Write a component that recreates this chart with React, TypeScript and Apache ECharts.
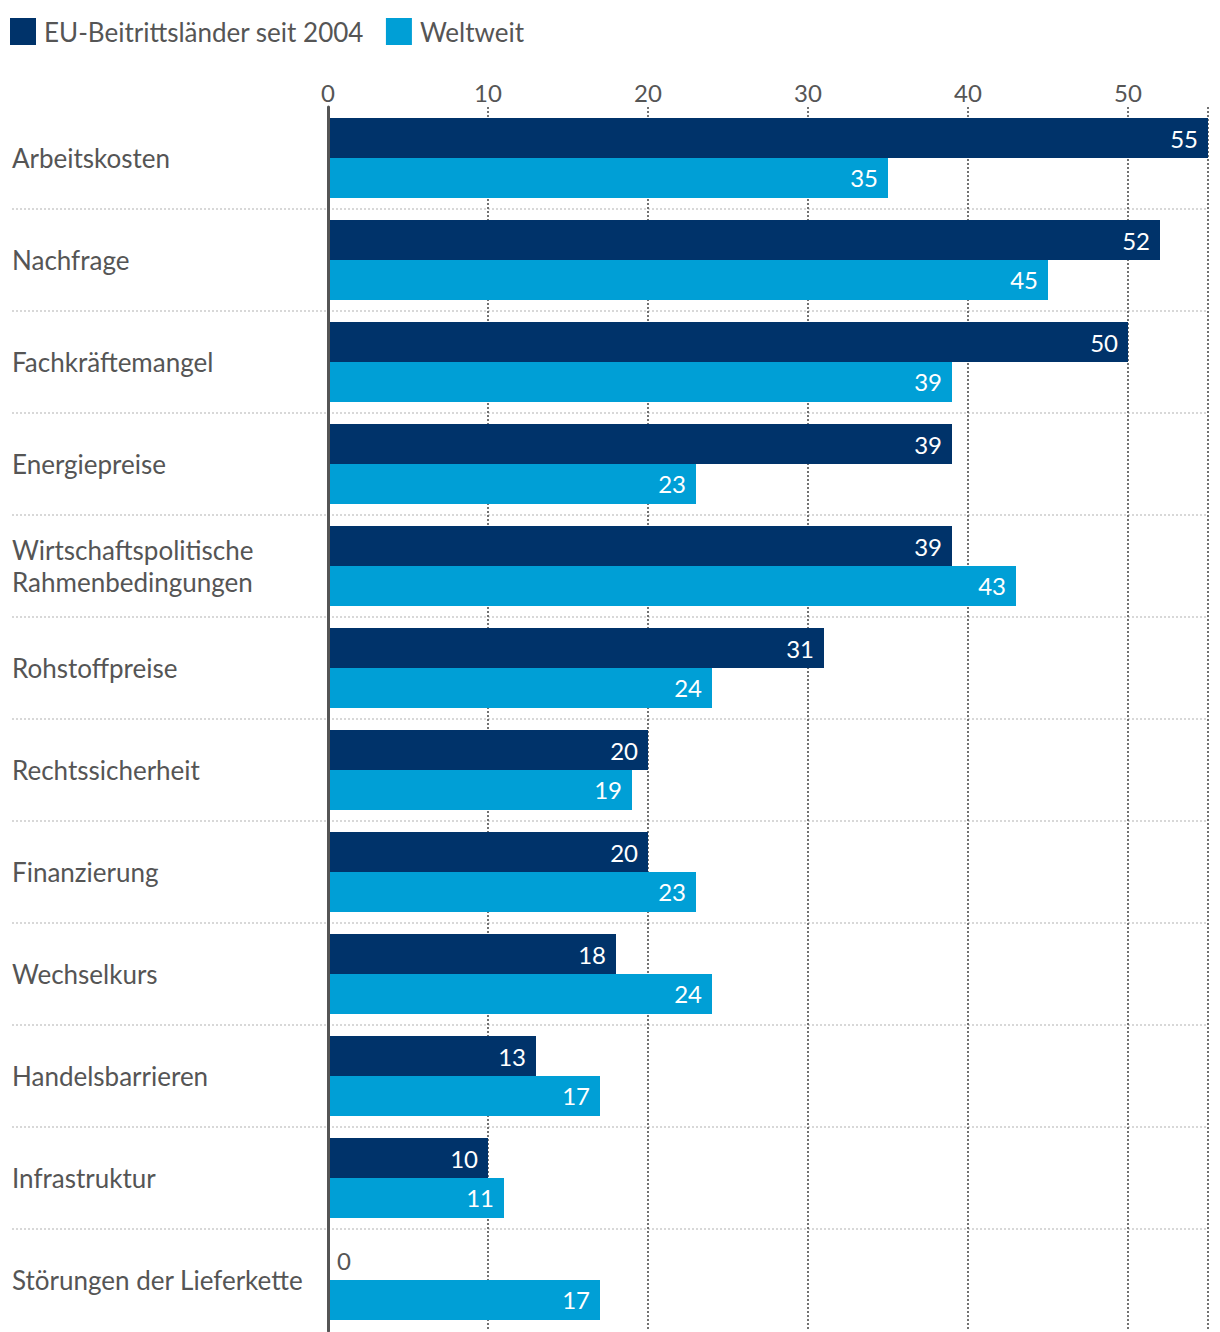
import React, { useEffect, useRef } from "react";
import * as echarts from "echarts";

const categories = [
  "Arbeitskosten",
  "Nachfrage",
  "Fachkräftemangel",
  "Energiepreise",
  "Wirtschaftspolitische\nRahmenbedingungen",
  "Rohstoffpreise",
  "Rechtssicherheit",
  "Finanzierung",
  "Wechselkurs",
  "Handelsbarrieren",
  "Infrastruktur",
  "Störungen der Lieferkette",
];
const euValues = [55, 52, 50, 39, 39, 31, 20, 20, 18, 13, 10, 0];
const worldValues = [35, 45, 39, 23, 43, 24, 19, 23, 24, 17, 11, 17];
const seriesNames = ["EU-Beitrittsländer seit 2004", "Weltweit"];
const tickInterval = 10;
const axisMax = 55;

const FONT = "Lato, 'Source Sans Pro', 'Noto Sans', sans-serif";
const DARK = "#00336A";
const LIGHT = "#009FD6";
const TEXT = "#555555";

function toData(values: number[]) {
  return values.map((v) =>
    v === 0
      ? { value: v, label: { position: "right", color: TEXT, distance: 9 } }
      : { value: v }
  );
}

export default function App() {
  const ref = useRef<HTMLDivElement>(null);
  useEffect(() => {
    document.body.style.margin = "0";
    if (!ref.current) return;
    const chart = echarts.init(ref.current, null, { renderer: "svg" });
    const labelCfg = {
      show: true,
      position: "insideRight",
      distance: 10,
      color: "#ffffff",
      fontSize: 24,
      fontFamily: FONT,
    };
    chart.setOption({
      animation: false,
      textStyle: { fontFamily: FONT },
      legend: {
        left: 10,
        top: 18,
        padding: 0,
        itemWidth: 26,
        itemHeight: 27,
        itemGap: 22,
        icon: "rect",
        textStyle: { fontSize: 26, color: TEXT, fontFamily: FONT, padding: [0, 0, 0, 3] },
        data: seriesNames,
      },
      grid: [
        { left: 328, right: 12, top: 107, bottom: 1 },
        { left: 12, right: 12, top: 107, bottom: 1 },
      ],
      xAxis: [
        {
          gridIndex: 0,
          type: "value",
          position: "top",
          min: 0,
          max: axisMax,
          interval: tickInterval,
          axisLine: { show: false },
          axisTick: { show: false },
          axisLabel: {
            color: TEXT,
            fontSize: 24,
            fontFamily: FONT,
            margin: 3,
            showMaxLabel: false,
          },
          splitLine: {
            show: true,
            lineStyle: { color: "#444", width: 1.5, type: [2, 2] },
          },
        },
        {
          gridIndex: 1,
          type: "value",
          show: false,
          min: 0,
          max: 1,
          splitLine: { show: false },
        },
      ],
      yAxis: [
        {
          gridIndex: 0,
          type: "category",
          inverse: true,
          data: categories,
          axisLine: { show: true, lineStyle: { color: TEXT, width: 3 } },
          axisTick: { show: false },
          axisLabel: {
            color: TEXT,
            fontSize: 26,
            fontFamily: FONT,
            align: "left",
            margin: 316,
            lineHeight: 32,
          },
          splitLine: { show: false },
          z: 5,
        },
        {
          gridIndex: 1,
          type: "category",
          inverse: true,
          data: categories,
          axisLine: { show: false },
          axisTick: { show: false },
          axisLabel: { show: false },
          splitLine: {
            show: true,
            showMinLine: false,
            showMaxLine: false,
            lineStyle: { color: "#cccccc", width: 1.5, type: [2, 2] },
          },
        },
      ],
      series: [
        {
          name: seriesNames[0],
          type: "bar",
          xAxisIndex: 0,
          yAxisIndex: 0,
          data: toData(euValues),
          itemStyle: { color: DARK },
          barGap: "0%",
          barCategoryGap: "21.6%",
          label: labelCfg,
          z: 3,
        },
        {
          name: seriesNames[1],
          type: "bar",
          xAxisIndex: 0,
          yAxisIndex: 0,
          data: toData(worldValues),
          itemStyle: { color: LIGHT },
          barGap: "0%",
          barCategoryGap: "21.6%",
          label: labelCfg,
          z: 3,
        },
      ],
    });
    return () => chart.dispose();
  }, []);
  return <div ref={ref} style={{ width: 1220, height: 1332 }} />;
}
